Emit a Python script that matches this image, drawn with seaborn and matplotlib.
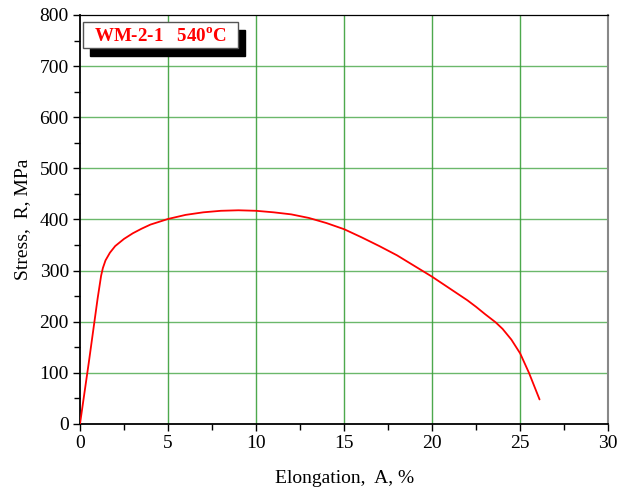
import matplotlib
matplotlib.use("Agg")
import matplotlib.pyplot as plt
import seaborn as sns
import pandas as pd
from matplotlib.patches import Rectangle
from matplotlib.ticker import MultipleLocator

elongation = [0, 0.5, 1.0, 1.2, 1.3, 1.45, 1.7, 2.0, 2.5, 3, 3.5, 4, 5, 6, 7, 8, 9, 10, 11,
              12, 13, 14, 15, 16, 17, 18, 19, 20, 21, 22, 22.5, 23, 23.6, 24, 24.5, 25, 25.5, 26.1]
stress = [0, 120, 245, 290, 305, 320, 335, 348, 362, 373, 382, 390, 401, 409, 414, 417,
          418, 417, 414, 410, 403, 393, 381, 365, 348, 330, 309, 288, 265, 242, 229, 215,
          199, 186, 165, 138, 100, 48]
x_ticks = [0, 5, 10, 15, 20, 25, 30]
y_ticks = [0, 100, 200, 300, 400, 500, 600, 700, 800]
label = "WM-2-1   540$^{\\mathregular{o}}$C"

sns.set_style("white")
plt.rcParams['font.family'] = ['Liberation Serif', 'DejaVu Serif']
plt.rcParams['mathtext.fontset'] = 'custom'
plt.rcParams['mathtext.rm'] = 'Liberation Serif'
plt.rcParams['mathtext.bf'] = 'Liberation Serif:bold'
plt.rcParams['text.color'] = 'black'
plt.rcParams['axes.labelcolor'] = 'black'
plt.rcParams['xtick.color'] = 'black'
plt.rcParams['ytick.color'] = 'black'

df = pd.DataFrame({"A": elongation, "R": stress})
fig = plt.figure(figsize=(6.2, 4.93), dpi=100)
ax = fig.add_axes([0.129, 0.140, 0.852, 0.8296])

for v in x_ticks[1:-1]:
    ax.axvline(v, color="#2e9a2e", lw=1.0, alpha=0.85, zorder=1)
for v in y_ticks[1:-1]:
    ax.axhline(v, color="#3aa03a", lw=1.0, alpha=0.75, zorder=1)

sns.lineplot(data=df, x="A", y="R", ax=ax, color="red", lw=1.3, zorder=3)

ax.set_xlim(0, 30)
ax.set_ylim(0, 800)
ax.set_xticks(x_ticks)
ax.set_yticks(y_ticks)
ax.xaxis.set_minor_locator(MultipleLocator(2.5))
ax.yaxis.set_minor_locator(MultipleLocator(50))
ax.tick_params(axis="both", which="major", direction="out", length=5, width=1.0,
               labelsize=14, bottom=True, left=True, top=False, right=False, pad=3,
               colors="black")
ax.tick_params(axis="both", which="minor", direction="out", length=4, width=1.0,
               bottom=True, left=True, top=False, right=False, colors="black")
ax.set_xlabel("Elongation,  A, %", fontsize=14, labelpad=13, color="black")
ax.set_ylabel("Stress,  R, MPa", fontsize=14, labelpad=6, color="black")

for s in ["left", "bottom"]:
    ax.spines[s].set_color("black")
    ax.spines[s].set_linewidth(1.3)
ax.spines["top"].set_color("black")
ax.spines["top"].set_linewidth(0.9)
ax.spines["right"].set_color("#888888")
ax.spines["right"].set_linewidth(1.5)

# label box with shadow
bx0, bx1 = 0.0057, 0.299
by0, by1 = 0.919, 0.983
ax.add_patch(Rectangle((bx0 + 0.013, by0 - 0.0196), bx1 - bx0, by1 - by0,
                       transform=ax.transAxes, facecolor="black", edgecolor="black",
                       zorder=5, clip_on=False))
ax.add_patch(Rectangle((bx0, by0), bx1 - bx0, by1 - by0, transform=ax.transAxes,
                       facecolor="white", edgecolor="#555555", lw=1.0, zorder=6,
                       clip_on=False))
ax.text((bx0 + bx1) / 2, (by0 + by1) / 2 - 0.002, label, transform=ax.transAxes,
        ha="center", va="center", color="red", fontsize=13.7, fontweight="bold",
        zorder=7)

fig.savefig("out.png", dpi=100)
